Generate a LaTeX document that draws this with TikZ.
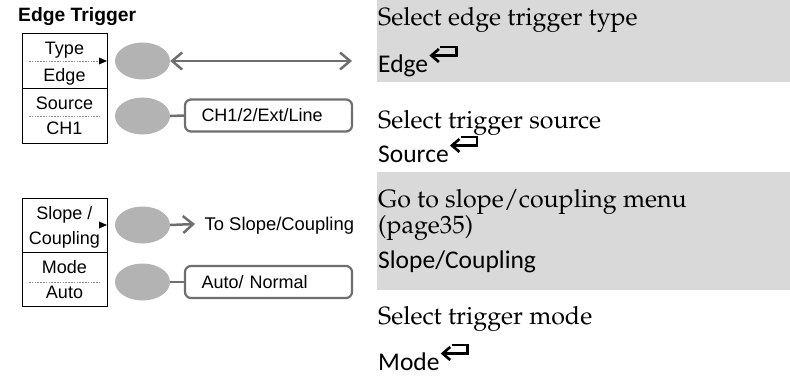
\documentclass[tikz,border=0pt]{standalone}
\usepackage[T1]{fontenc}
\usepackage{fontspec}
\setmainfont{Liberation Sans}
\newfontfamily\calibfont{Carlito}
\newcommand\palatfont{\fontencoding{T1}\fontfamily{ppl}\selectfont}
\usetikzlibrary{arrows.meta,shapes.geometric}
\definecolor{bandgray}{HTML}{D9D9D9}
\definecolor{btngray}{HTML}{B3B3B3}
\definecolor{conngray}{HTML}{6E6E6E}
\definecolor{dotgray}{HTML}{8A8A8A}
\tikzset{
  menubox/.style={draw=black, line width=0.9pt, minimum width=85pt, inner sep=0pt},
  menutxt/.style={font=\fontsize{18}{20}\selectfont, inner sep=0pt, anchor=base},
  dotline/.style={draw=dotgray, line width=0.8pt, dash pattern=on 1.6pt off 1.2pt},
  pointer/.style={fill=black},
  btn/.style={ellipse, fill=btngray, minimum width=55pt, minimum height=37pt, inner sep=0pt},
  conn/.style={draw=conngray, line width=2.5pt},
  barb/.tip={Straight Barb[length=10pt,width=17pt,line width=2.5pt]},
  optbox/.style={draw=conngray, line width=2.2pt, rounded corners=6pt, fill=white,
    minimum width=167pt, minimum height=32pt, text width=134pt, align=left,
    inner xsep=16.5pt, inner ysep=0pt, font=\fontsize{18}{20}\selectfont},
  sidetxt/.style={font=\fontsize{18.4}{20}\selectfont, inner sep=0pt, anchor=base west},
  serif/.style={font=\palatfont\fontsize{25}{27}\selectfont, inner sep=0pt, anchor=base west},
  calib/.style={font=\calibfont\fontsize{25.5}{27}\selectfont, inner sep=0pt, anchor=base west},
  retsym/.style={draw=black, line width=2.6pt, line join=miter, line cap=butt}
}
\newcommand\retmark[1]{%
  \draw[retsym] (#1.base east) ++(12,-25) -- ++(16,0) -- ++(0,8.5) -- ++(-25,0);
  \draw[retsym] (#1.base east) ++(10.5,-23) -- ++(-7.5,6.5) -- ++(7.5,6.5);}
\begin{document}
\begin{tikzpicture}[x=1pt,y=-1pt]
\useasboundingbox (0,0) rectangle (790,378);
% gray bands
\fill[bandgray] (377,0) rectangle (790,82);
\fill[bandgray] (377,172) rectangle (790,290);
% title
\node[font=\bfseries\fontsize{19.3}{21}\selectfont, inner sep=0pt, anchor=base west] (title) at (18,21.5) {Edge Trigger};
% menu boxes
\node[menubox, minimum height=55pt] (m1) at (64.5,60.5) {};
\node[menubox, minimum height=55pt] (m2) at (64.5,115.5) {};
\node[menubox, minimum height=54pt] (m3) at (64.5,225) {};
\node[menubox, minimum height=54pt] (m4) at (64.5,279) {};
\node[menutxt] (t1) at (64.5,54) {Type};
\node[menutxt] (t2) at (64.5,81) {Edge};
\node[menutxt] (t3) at (64.5,109) {Source};
\node[menutxt] (t4) at (64.5,134) {CH1};
\node[menutxt] (t5) at (64.5,219) {Slope /};
\node[menutxt] (t6) at (64.5,244.5) {Coupling};
\node[menutxt] (t7) at (64.5,273) {Mode};
\node[menutxt] (t8) at (64.5,298.5) {Auto};
\draw[dotline] (29,61) -- (99,61);
\draw[dotline] (29,116) -- (100,116);
\draw[dotline] (29,282) -- (100,282);
\fill[pointer] (99,57.5) -- (107,61) -- (99,64.5) -- cycle;
\fill[pointer] (99,221.5) -- (107,225) -- (99,228.5) -- cycle;
% buttons
\node[btn] (b1) at (142.5,61) {};
\node[btn] (b2) at (142.5,116) {};
\node[btn] (b3) at (142.5,225) {};
\node[btn] (b4) at (142.5,282) {};
% connectors
\coordinate (e1) at (352,61);
\draw[conn, barb-barb] (b1.east) -- (e1);
\node[optbox] (o1) at (268.5,115.5) {CH1/2/Ext/Line};
\draw[conn] (b2.east) -- (o1.west);
\coordinate (e3) at (195,224);
\draw[conn, -barb] (b3.east) -- (e3);
\node[sidetxt] (s3) at (204.5,230.5) {To Slope/Coupling};
\node[optbox] (o4) at (268.5,282) {Auto/ Normal};
\draw[conn] (b4.east) -- (o4.west);
% right descriptions
\node[serif] (r1) at (378,25) {Select edge trigger type};
\node[calib] (r2) at (378,72) {Edge};
\node[serif] (r3) at (378,128) {Select trigger source};
\node[calib] (r4) at (378,162) {Source};
\node[serif] (r5) at (378,207) {Go to slope/coupling menu};
\node[serif] (r6) at (378,233.5) {(page35)};
\node[calib] (r7) at (378,268) {Slope/Coupling};
\node[serif] (r8) at (378,324) {Select trigger mode};
\node[calib] (r9) at (378,370) {Mode};
\retmark{r2}
\retmark{r4}
\retmark{r9}
\end{tikzpicture}
\end{document}
